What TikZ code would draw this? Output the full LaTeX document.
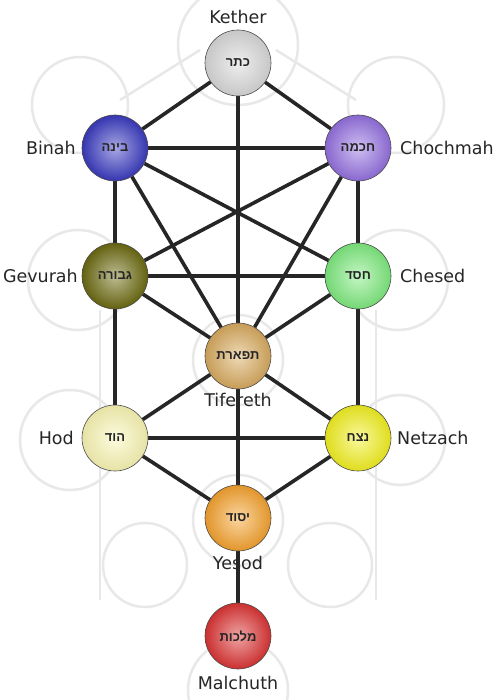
\documentclass[tikz,border=0pt]{standalone}
\usepackage{fontspec}
\setmainfont{DejaVu Sans}
\newfontfamily\hebfont[Script=Hebrew]{Liberation Sans}
\TeXXeTstate=1
\pgfdeclarelayer{paper}
\pgfdeclarelayer{bg}
\pgfdeclarelayer{deco}
\pgfsetlayers{paper,deco,bg,main}
\definecolor{kcol}{HTML}{D8D8D8}
\definecolor{bcol}{HTML}{3A3AC0}
\definecolor{ccol}{HTML}{9470E0}
\definecolor{gcol}{HTML}{6C6A10}
\definecolor{hcol}{HTML}{7EEA7E}
\definecolor{tcol}{HTML}{D8AA5E}
\definecolor{dcol}{HTML}{FAF6B4}
\definecolor{ncol}{HTML}{F2F020}
\definecolor{ycol}{HTML}{F5A22E}
\definecolor{mcol}{HTML}{DC3434}
\definecolor{faint}{HTML}{E8E8E8}
\begin{document}
\begin{tikzpicture}[x=1pt,y=-1pt,
  sef/.style={circle, minimum size=66pt, inner sep=0pt, draw=black!70, line width=0.6pt,
    font=\hebfont\bfseries\fontsize{13}{13}\selectfont, text=black!85,
    shading=radial, inner color=#1!45!white, outer color=#1!92!black},
  lbl/.style={font=\fontsize{17.5}{18}\selectfont, text=black!85, inner sep=0pt},
  conn/.style={line width=3.6pt, draw=black!85},
  bgline/.style={line width=2.5pt, draw=faint}]
\useasboundingbox (0,0) rectangle (500,700);
\begin{pgfonlayer}{paper}
\fill[white] (0,0) rectangle (500,700);
\end{pgfonlayer}

% faint background figure
\begin{pgfonlayer}{deco}
\draw[bgline] (238,45) circle (60);
\draw[bgline] (80,105) circle (48);
\draw[bgline] (396,105) circle (48);
\draw[bgline] (78,280) circle (50);
\draw[bgline] (398,280) circle (50);
\draw[bgline] (70,440) circle (50);
\draw[bgline] (400,440) circle (45);
\draw[bgline] (145,565) circle (42);
\draw[bgline] (330,565) circle (42);
\draw[bgline] (238,360) circle (45);
\draw[bgline] (238,520) circle (45);
\draw[bgline] (238,690) circle (50);
\draw[bgline] (120,100) -- (200,50);
\draw[bgline] (356,100) -- (276,50);
\draw[bgline] (100,310) -- (100,600);
\draw[bgline] (376,310) -- (376,600);
\end{pgfonlayer}

% sefirot
\node[sef=kcol] (ke) at (238,63) {\beginR כתר\endR};
\node[sef=bcol] (bi) at (115,148) {\beginR בינה\endR};
\node[sef=ccol] (ch) at (358,148) {\beginR חכמה\endR};
\node[sef=gcol] (ge) at (115,276) {\beginR גבורה\endR};
\node[sef=hcol] (he) at (358,276) {\beginR חסד\endR};
\node[sef=tcol] (ti) at (238,356) {\beginR תפארת\endR};
\node[sef=dcol] (ho) at (115,438) {\beginR הוד\endR};
\node[sef=ncol] (ne) at (358,438) {\beginR נצח\endR};
\node[sef=ycol] (ye) at (238,518) {\beginR יסוד\endR};
\node[sef=mcol] (ma) at (238,636) {\beginR מלכות\endR};

% labels
\node[lbl] (kel) at (238,17) {Kether};
\node[lbl, anchor=east] (bil) at (76,148) {Binah};
\node[lbl, anchor=west] (chl) at (400,148) {Chochmah};
\node[lbl, anchor=east] (gel) at (78,276) {Gevurah};
\node[lbl, anchor=west] (hel) at (400,276) {Chesed};
\node[lbl] (til) at (238,400) {Tifereth};
\node[lbl, anchor=east] (hol) at (74,438) {Hod};
\node[lbl, anchor=west] (nel) at (397,438) {Netzach};
\node[lbl] (yel) at (238,563) {Yesod};
\node[lbl] (mal) at (238,683) {Malchuth};

% paths
\begin{pgfonlayer}{bg}
\draw[conn] (ke) -- (bi);
\draw[conn] (ke) -- (ch);
\draw[conn] (ke) -- (ti);
\draw[conn] (bi) -- (ch);
\draw[conn] (bi) -- (ge);
\draw[conn] (ch) -- (he);
\draw[conn] (bi) -- (he);
\draw[conn] (ch) -- (ge);
\draw[conn] (bi) -- (ti);
\draw[conn] (ch) -- (ti);
\draw[conn] (ge) -- (he);
\draw[conn] (ge) -- (ti);
\draw[conn] (he) -- (ti);
\draw[conn] (ge) -- (ho);
\draw[conn] (he) -- (ne);
\draw[conn] (ti) -- (ho);
\draw[conn] (ti) -- (ne);
\draw[conn] (ho) -- (ne);
\draw[conn] (ti) -- (ye);
\draw[conn] (ho) -- (ye);
\draw[conn] (ne) -- (ye);
\draw[conn] (ye) -- (ma);
\end{pgfonlayer}
\end{tikzpicture}
\end{document}
